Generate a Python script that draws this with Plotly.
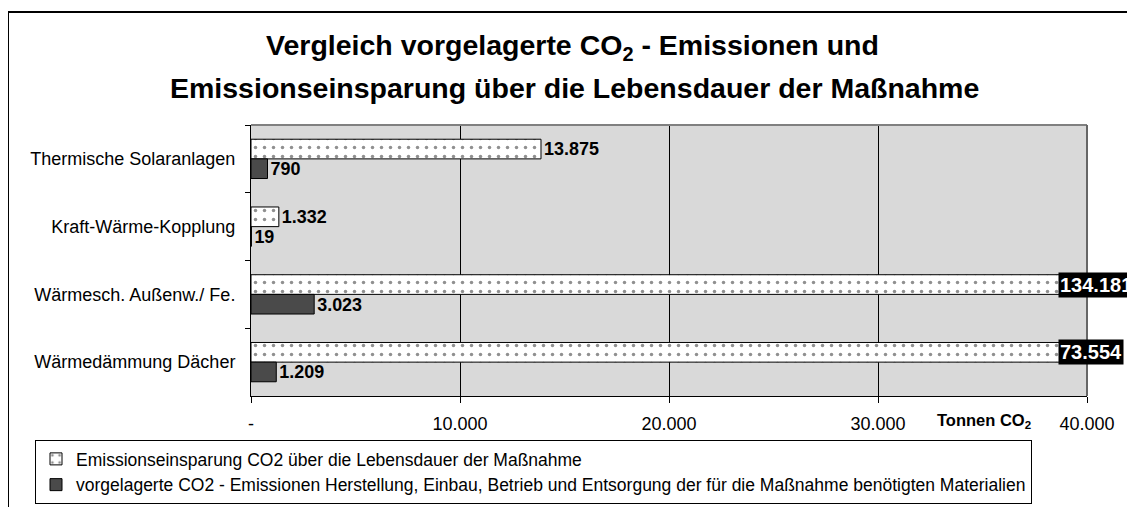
import plotly.graph_objects as go

categories = ["Thermische Solaranlagen", "Kraft-Wärme-Kopplung", "Wärmesch. Außenw./ Fe.", "Wärmedämmung Dächer"]
einsparung = [13875, 1332, 134181, 73554]
vorgelagert = [790, 19, 3023, 1209]
tick_vals = [0, 10000, 20000, 30000, 40000]
tick_text = ["-", "10.000", "20.000", "30.000", "40.000"]
name_einsparung = "Emissionseinsparung CO2 über die Lebensdauer der Maßnahme"
name_vorgelagert = "vorgelagerte CO2 - Emissionen Herstellung, Einbau, Betrieb und Entsorgung der für die Maßnahme benötigten Materialien"
x_max = 40000

FONT = "Liberation Sans, Arial, sans-serif"

# page pixel -> paper coordinate helpers (page has an 8px body margin)
PL, PR, PT, PB = 251, 1087, 125, 396
def px(x):
    return (x - PL) / (PR - PL)
def py(y):
    return (PB - y) / (PB - PT)

def fmt(v):
    return f"{v:,}".replace(",", ".")

def positions(vals):
    return ["outside" if v <= x_max else "none" for v in vals]

fig = go.Figure()
fig.add_trace(go.Bar(
    y=categories, x=einsparung, orientation="h", name=name_einsparung,
    marker=dict(color="white", line=dict(color="black", width=1),
                pattern=dict(shape=".", fgcolor="#222222", bgcolor="white", size=9, solidity=0.12)),
    text=[fmt(v) for v in einsparung], textposition=positions(einsparung), cliponaxis=True,
    textfont=dict(family=FONT, size=21, color="black", weight="bold"),
))
fig.add_trace(go.Bar(
    y=categories, x=vorgelagert, orientation="h", name=name_vorgelagert,
    marker=dict(color="#4a4a4a", line=dict(color="black", width=1)),
    text=[fmt(v) for v in vorgelagert], textposition=positions(vorgelagert), cliponaxis=True,
    textfont=dict(family=FONT, size=21, color="black", weight="bold"),
))

annotations = []
# value labels of bars running past the axis end: black boxes at the right edge
for cat_i, v in enumerate(einsparung):
    if v > x_max:
        annotations.append(dict(
            x=x_max, y=cat_i - 0.145, xref="x", yref="y", text=f"<b>{fmt(v)}</b>",
            showarrow=False, xanchor="left", yanchor="middle", xshift=-29, bgcolor="black",
            font=dict(family=FONT, size=20, color="white"), borderpad=1,
        ))

annotations += [
    dict(text="<b>Vergleich vorgelagerte CO<sub>2</sub> - Emissionen und</b>", xref="paper", yref="paper",
         x=px(572), y=py(47), xanchor="center", yanchor="middle", showarrow=False,
         font=dict(family=FONT, size=28.5, color="black")),
    dict(text="<b>Emissionseinsparung über die Lebensdauer der Maßnahme</b>", xref="paper", yref="paper",
         x=px(574), y=py(88), xanchor="center", yanchor="middle", showarrow=False,
         font=dict(family=FONT, size=28.5, color="black")),
    dict(text="<b>Tonnen CO<sub>2</sub></b>", xref="paper", yref="paper",
         x=px(984), y=py(421), xanchor="center", yanchor="middle", showarrow=False,
         font=dict(family=FONT, size=16.5, color="black")),
]

shapes = [
    # outer frame
    dict(type="rect", xref="paper", yref="paper", x0=px(8), x1=px(1150),
         y0=py(530), y1=py(12), line=dict(color="black", width=2), layer="below"),
    # plot area border top (gray) and right (dark gray)
    dict(type="line", xref="paper", yref="paper", x0=0, x1=1, y0=1, y1=1, line=dict(color="#808080", width=2)),
    dict(type="line", xref="paper", yref="paper", x0=1, x1=1, y0=0, y1=1, line=dict(color="#666666", width=2)),
]

fig.update_layout(
    width=1127, height=499,
    margin=dict(l=243, r=48, t=117, b=111, autoexpand=False),
    paper_bgcolor="white", plot_bgcolor="#d9d9d9",
    barmode="group", bargap=0.42, bargroupgap=0.0,
    font=dict(family=FONT, size=16, color="black"),
    showlegend=True,
    legend=dict(x=px(35), y=py(440), xanchor="left", yanchor="top",
                bordercolor="black", borderwidth=1, bgcolor="white",
                font=dict(family=FONT, size=17.5, color="black"), traceorder="normal",
                itemwidth=30, tracegroupgap=0),
    annotations=annotations, shapes=shapes,
)
fig.update_xaxes(range=[0, x_max], tickvals=tick_vals, ticktext=tick_text,
                 showgrid=True, gridcolor="black", gridwidth=1, zeroline=False,
                 showline=True, linecolor="black", linewidth=1, ticks="outside", ticklen=6,
                 tickcolor="black", ticklabelstandoff=5, tickfont=dict(size=18))
fig.update_yaxes(autorange="reversed", showline=True, linecolor="black", linewidth=1,
                 ticks="outside", ticklen=5, tickcolor="black", tickson="boundaries",
                 showgrid=False, ticklabelstandoff=11, tickfont=dict(size=18))

fig.write_html("out.html")
